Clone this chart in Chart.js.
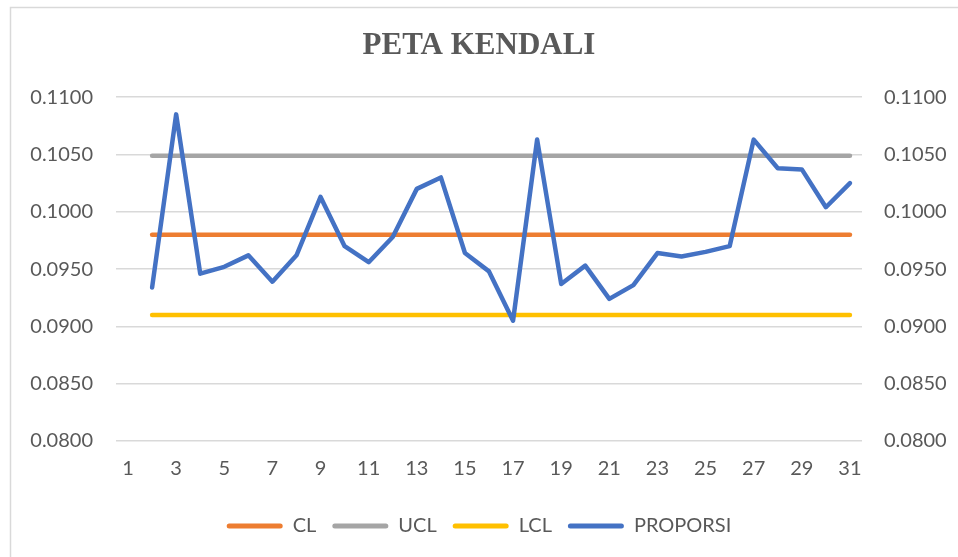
<!DOCTYPE html>
<html>
<head>
<meta charset="utf-8">
<script src="https://cdn.jsdelivr.net/npm/chart.js@4"></script>
<style>
html,body{margin:0;padding:0;background:#fff;}
canvas{display:block;}
</style>
</head>
<body>
<canvas id="c" width="958" height="557"></canvas>
<script>
const categories = [1,2,3,4,5,6,7,8,9,10,11,12,13,14,15,16,17,18,19,20,21,22,23,24,25,26,27,28,29,30,31];
const proporsi = [null,0.0934,0.1085,0.0946,0.0952,0.0962,0.0939,0.0962,0.1013,0.0970,0.0956,0.0978,0.1020,0.1030,0.0964,0.0948,0.0905,0.1063,0.0937,0.0953,0.0924,0.0936,0.0964,0.0961,0.0965,0.0970,0.1063,0.1038,0.1037,0.1004,0.1025];
const clValue = 0.0980;
const uclValue = 0.1049;
const lclValue = 0.0910;
const cl = categories.map((c,i)=> i===0 ? null : clValue);
const ucl = categories.map((c,i)=> i===0 ? null : uclValue);
const lcl = categories.map((c,i)=> i===0 ? null : lclValue);
const yTicks = {min:0.08, max:0.11, step:0.005};

const txt = '#595959';
const font = {family:'Lato', size:20};

const bgPlugin = {
  id:'bg',
  beforeDraw(chart){
    const ctx = chart.ctx;
    ctx.save();
    ctx.fillStyle = '#fff';
    ctx.fillRect(0,0,chart.width,chart.height);
    ctx.strokeStyle = '#D9D9D9';
    ctx.lineWidth = 1.5;
    ctx.beginPath();
    ctx.moveTo(10.5, chart.height);
    ctx.lineTo(10.5, 7.5);
    ctx.lineTo(chart.width, 7.5);
    ctx.stroke();
    ctx.restore();
  }
};

function ds(label, data, color, order){
  return {label, data, borderColor:color, backgroundColor:color, borderWidth:4.5,
    pointRadius:0, pointHoverRadius:0, tension:0, fill:false, order,
    borderCapStyle:'round', borderJoinStyle:'round', spanGaps:false, yAxisID:'y'};
}

new Chart(document.getElementById('c'), {
  type:'line',
  data:{
    labels: categories,
    datasets:[
      ds('CL', cl, '#ED7D31', 1),
      ds('UCL', ucl, '#A5A5A5', 1),
      ds('LCL', lcl, '#FFC000', 1),
      ds('PROPORSI', proporsi, '#4472C4', 0)
    ]
  },
  options:{
    responsive:false,
    animation:false,
    layout:{padding:{left:0,right:0,top:0,bottom:11}},
    plugins:{
      tooltip:{enabled:false},
      title:{display:true, text:'PETA KENDALI', color:txt,
        font:{family:'Liberation Serif', size:31, weight:'bold'},
        padding:{top:27, bottom:33}},
      legend:{position:'bottom',
        labels:{color:txt, font:{family:'Lato', size:20}, boxWidth:56, boxHeight:5, padding:16,
          useBorderRadius:true, borderRadius:2.5,
          sort:(a,b)=>a.datasetIndex-b.datasetIndex,
          generateLabels(chart){
            return chart.data.datasets.map((d,i)=>({text:d.label, fillStyle:d.borderColor, strokeStyle:d.borderColor, lineWidth:0, borderRadius:2.5, datasetIndex:i, fontColor:txt}));
          }}}
    },
    scales:{
      x:{
        offset:true,
        grid:{display:false, drawTicks:false},
        border:{display:false},
        ticks:{color:txt, font, autoSkip:false, maxRotation:0, padding:16,
          callback(v,i){ return i%2===0 ? String(categories[i]) : ''; }},
        afterFit(s){ s.height = 59; }
      },
      y:{
        position:'left',
        min:yTicks.min, max:yTicks.max,
        grid:{color:'#D9D9D9', lineWidth:1.5, drawTicks:false},
        border:{display:false},
        ticks:{stepSize:yTicks.step, color:txt, font, padding:23,
          callback:v=>Number(v).toFixed(4)},
        afterFit(s){ s.width = 116; }
      },
      y2:{
        position:'right',
        min:yTicks.min, max:yTicks.max,
        grid:{display:false, drawTicks:false},
        border:{display:false},
        ticks:{stepSize:yTicks.step, color:txt, font, padding:22,
          callback:v=>Number(v).toFixed(4)},
        afterFit(s){ s.width = 96; }
      }
    }
  },
  plugins:[bgPlugin]
});
</script>
</body>
</html>
